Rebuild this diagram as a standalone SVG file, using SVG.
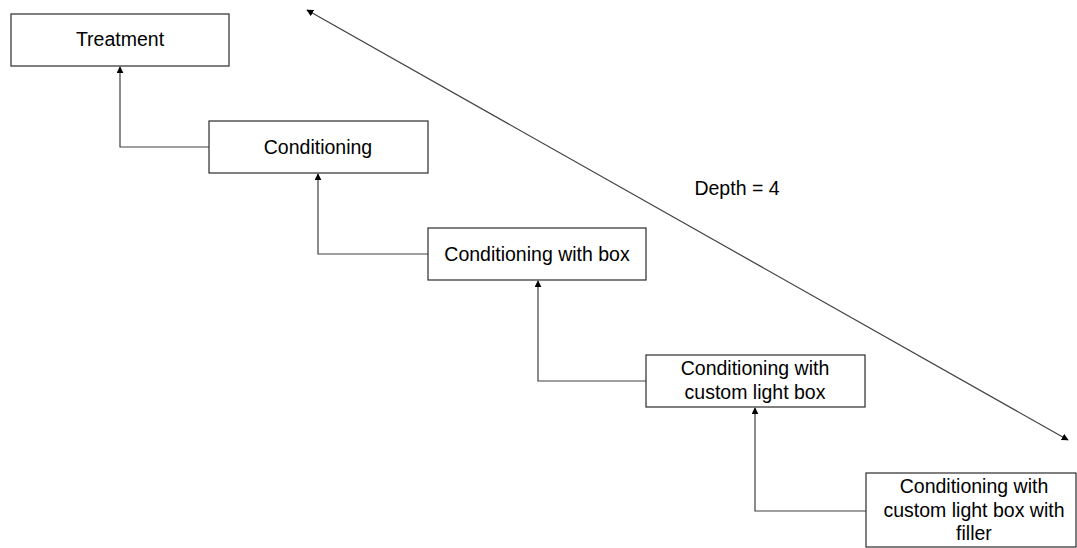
<svg xmlns="http://www.w3.org/2000/svg" width="1077" height="548" viewBox="0 0 1077 548">
<style>
.box{fill:#fff;stroke:#2b2b2b;stroke-width:1.2}
.lbl{font-family:"Liberation Sans",Arial,sans-serif;font-size:19.5px;fill:#000;text-anchor:middle}
.con{fill:none;stroke:#404040;stroke-width:1.2}
</style>
<defs>
<marker id="ah" viewBox="0 0 10 10" refX="9" refY="5" markerWidth="7" markerHeight="7" orient="auto-start-reverse" markerUnits="userSpaceOnUse">
<path d="M0,0 L10,5 L0,10 z" fill="#000"/>
</marker>
</defs>
<rect width="1077" height="548" fill="#fff"/>
<g id="connectors">
<path class="con" d="M209,147 H120 V67" marker-end="url(#ah)"/>
<path class="con" d="M428,254 H318 V174" marker-end="url(#ah)"/>
<path class="con" d="M646,381 H538 V281" marker-end="url(#ah)"/>
<path class="con" d="M866,511 H755 V408" marker-end="url(#ah)"/>
<path class="con" d="M307,10 L1068,440" marker-start="url(#ah)" marker-end="url(#ah)"/>
</g>
<g id="treatment"><rect class="box" x="11" y="14" width="218" height="52"/><text class="lbl" x="120" y="46">Treatment</text></g>
<g id="conditioning"><rect class="box" x="209" y="121" width="219" height="52"/><text class="lbl" x="318" y="154">Conditioning</text></g>
<g id="cond-box"><rect class="box" x="428" y="228" width="218" height="52"/><text class="lbl" x="537" y="261">Conditioning with box</text></g>
<g id="cond-light"><rect class="box" x="646" y="355" width="219" height="52"/><text class="lbl" x="755" y="375">Conditioning with</text><text class="lbl" x="755" y="399">custom light box</text></g>
<g id="cond-filler"><rect class="box" x="866" y="473" width="210" height="74"/><text class="lbl" x="974" y="493">Conditioning with</text><text class="lbl" x="974" y="517">custom light box with</text><text class="lbl" x="974" y="540">filler</text></g>
<g id="depth"><text class="lbl" x="737" y="195">Depth = 4</text></g>
</svg>
